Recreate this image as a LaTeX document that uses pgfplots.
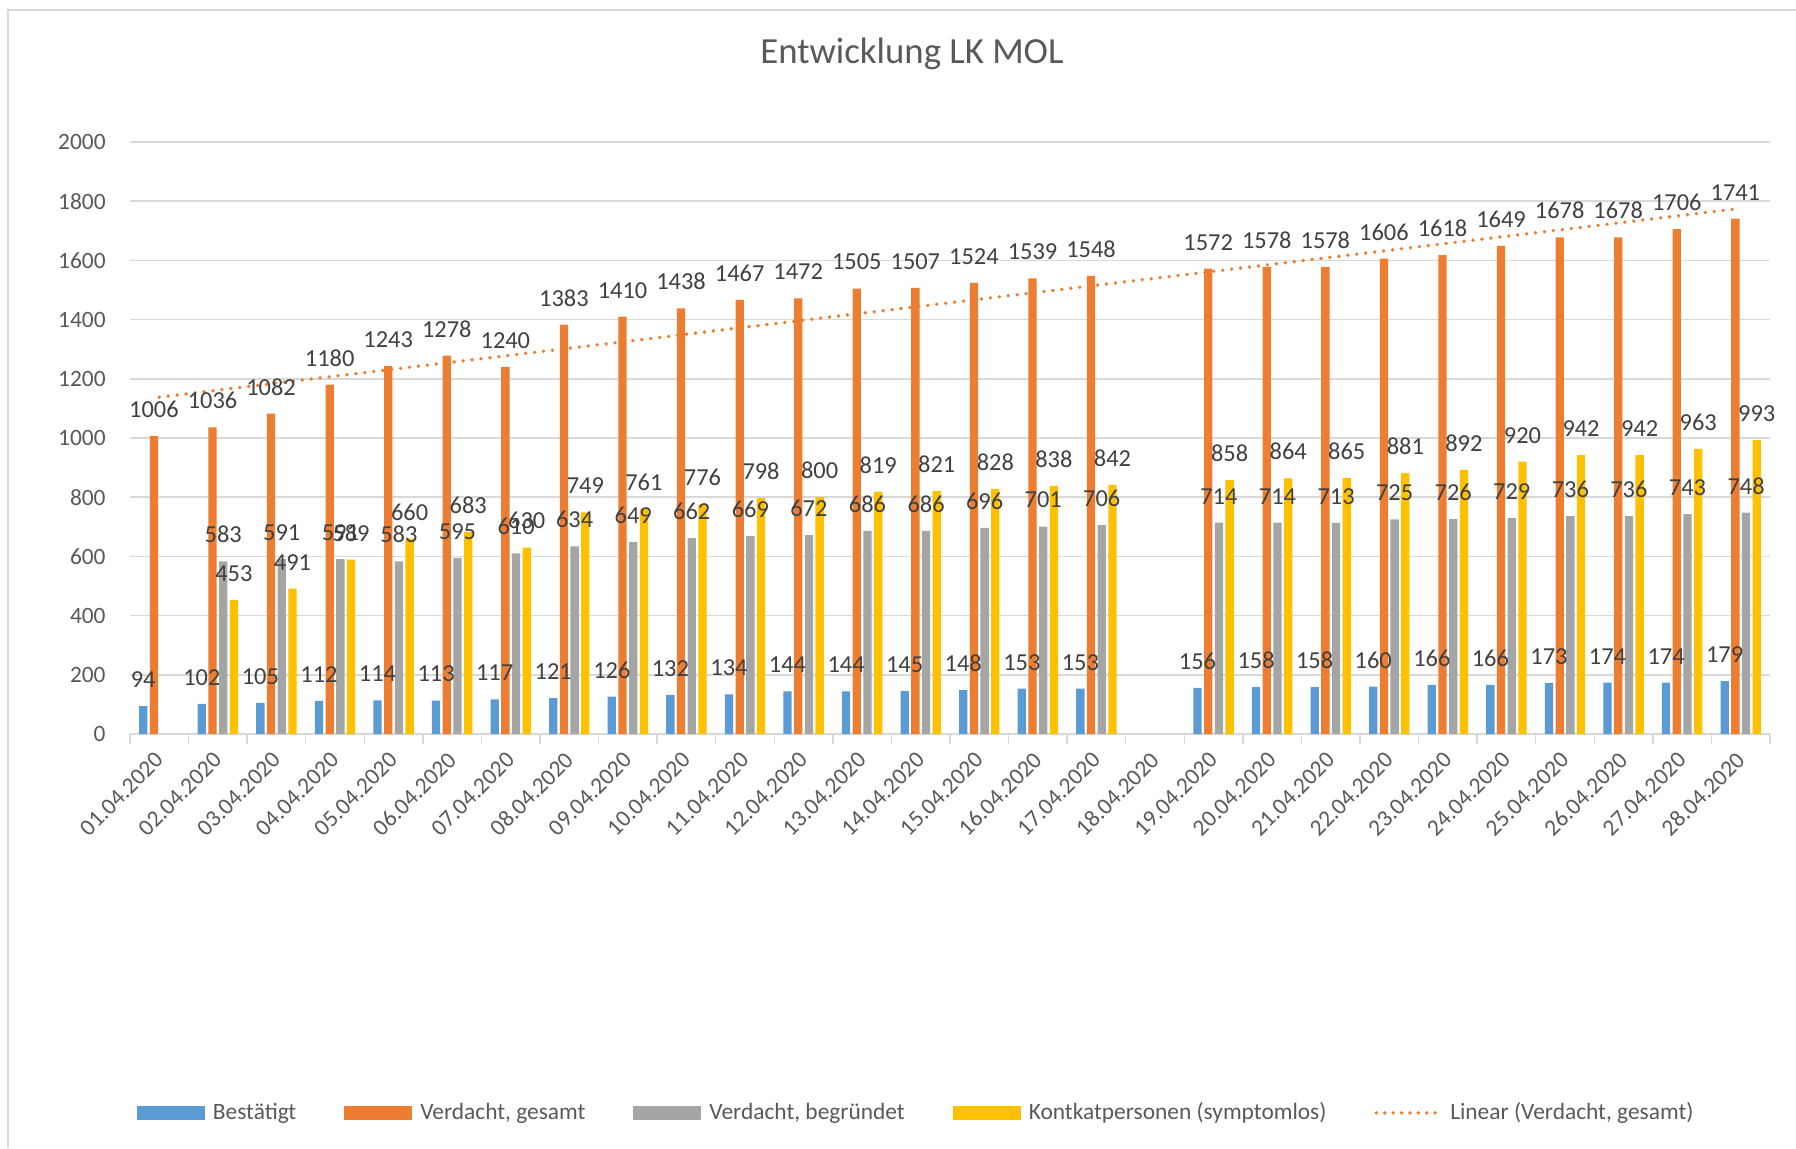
\documentclass[border=0pt]{standalone}
\usepackage{fontspec}
\setmainfont{Carlito}
\usepackage{pgfplots}
\usepackage{pgfplotstable}
\pgfplotsset{compat=1.18}
\definecolor{cblue}{HTML}{5B9BD5}
\definecolor{corange}{HTML}{ED7D31}
\definecolor{cgray}{HTML}{A5A5A5}
\definecolor{cgold}{HTML}{FFC000}
\definecolor{gridc}{HTML}{D9D9D9}
\definecolor{txt}{HTML}{595959}
\definecolor{lbl}{HTML}{404040}
\newcommand\fs{\fontsize{11.7}{14}\selectfont}
\newcommand\fl{\fontsize{12.2}{14}\selectfont}

\pgfplotstableread{
x b v g k
0 94 1006 nan nan
1 102 1036 583 453
2 105 1082 591 491
3 112 1180 591 589
4 114 1243 583 660
5 113 1278 595 683
6 117 1240 610 630
7 121 1383 634 749
8 126 1410 649 761
9 132 1438 662 776
10 134 1467 669 798
11 144 1472 672 800
12 144 1505 686 819
13 145 1507 686 821
14 148 1524 696 828
15 153 1539 701 838
16 153 1548 706 842
17 nan nan nan nan
18 156 1572 714 858
19 158 1578 714 864
20 158 1578 713 865
21 160 1606 725 881
22 166 1618 726 892
23 166 1649 729 920
24 173 1678 736 942
25 174 1678 736 942
26 174 1706 743 963
27 179 1741 748 993
}\data

\begin{document}
\begin{tikzpicture}
\begin{axis}[
  at={(65pt,207pt)}, anchor=south west,
  scale only axis, width=820pt, height=296pt,
  xmin=-0.5, xmax=27.5, ymin=0, ymax=2000,
  ytick={0,200,...,2000},
  xtick={0,...,27},
  xticklabels={01.04.2020,02.04.2020,03.04.2020,04.04.2020,05.04.2020,06.04.2020,07.04.2020,08.04.2020,09.04.2020,10.04.2020,11.04.2020,12.04.2020,13.04.2020,14.04.2020,15.04.2020,16.04.2020,17.04.2020,18.04.2020,19.04.2020,20.04.2020,21.04.2020,22.04.2020,23.04.2020,24.04.2020,25.04.2020,26.04.2020,27.04.2020,28.04.2020},
  major tick length=0pt,
  extra x ticks={-0.5,0.5,...,27.5},
  extra x tick labels={},
  extra x tick style={major tick length=5pt, tick align=outside, tick style={draw=gridc, line width=0.75pt}, grid=none},
  axis lines=left,
  axis line style={-},
  y axis line style={draw=none},
  x axis line style={draw=gridc, line width=0.75pt},
  ymajorgrids, grid style={draw=gridc, line width=0.75pt},
  yticklabel style={font=\fs, text=txt, inner sep=0pt, anchor=east, xshift=-12pt},
  xticklabel style={font=\fs, text=txt, inner sep=0pt, rotate=45, anchor=east},
  xticklabel shift=11pt,
  /pgf/number format/.cd, 1000 sep={}, assume math mode=true,
  /pgfplots/.cd,
  legend style={at={(axis description cs:0.48,-0.64)}, anchor=center, draw=none, fill=none,
    font=\fs, text=txt, legend columns=5,
    /tikz/every odd column/.append style={column sep=2pt},
    /tikz/every even column/.append style={column sep=22pt}},
  legend cell align=left,
  every node near coord/.append style={font=\fl, text=lbl, inner sep=0pt, anchor=south, yshift=9pt},
  clip=false,
]
\addplot[ybar, bar width=4.15pt, bar shift=-8.025pt, fill=cblue, draw=none, nodes near coords,
  every node near coord/.append style={xshift=-8.025pt},
  legend image code/.code={\fill[cblue] (0pt,-3.5pt) rectangle (34pt,3.5pt);}] table[x=x,y=b]{\data};
\addlegendentry{Bestätigt}
\addplot[ybar, bar width=4.15pt, bar shift=-2.675pt, fill=corange, draw=none, nodes near coords,
  every node near coord/.append style={xshift=-2.675pt},
  legend image code/.code={\fill[corange] (0pt,-3.5pt) rectangle (34pt,3.5pt);}] table[x=x,y=v]{\data};
\addlegendentry{Verdacht, gesamt}
\addplot[ybar, bar width=4.15pt, bar shift=2.675pt, fill=cgray, draw=none, nodes near coords,
  every node near coord/.append style={xshift=2.675pt},
  legend image code/.code={\fill[cgray] (0pt,-3.5pt) rectangle (34pt,3.5pt);}] table[x=x,y=g]{\data};
\addlegendentry{Verdacht, begründet}
\addplot[ybar, bar width=4.15pt, bar shift=8.025pt, fill=cgold, draw=none, nodes near coords,
  every node near coord/.append style={xshift=8.025pt},
  legend image code/.code={\fill[cgold] (0pt,-3.5pt) rectangle (34pt,3.5pt);}] table[x=x,y=k]{\data};
\addlegendentry{Kontkatpersonen (symptomlos)}
\addplot[sharp plot, no marks, corange, line width=1.9pt, line cap=round, dash pattern=on 0pt off 4.5pt,
  legend image code/.code={\draw[corange, line width=1.9pt, line cap=round, dash pattern=on 0pt off 4.2pt] (1pt,0pt) -- (33pt,0pt);}]
  coordinates {(0,1138) (27,1776)};
\addlegendentry{Linear (Verdacht, gesamt)}
\end{axis}
\node[font=\fontsize{18.4}{22}\selectfont, text=txt] at (456pt,547pt) {Entwicklung LK MOL};
\draw[gridc, line width=1pt] (4pt,0pt) -- (4pt,569pt) -- (898pt,569pt);
\pgfresetboundingbox
\path (0pt,0pt) rectangle (898pt,574pt);
\end{tikzpicture}
\end{document}
